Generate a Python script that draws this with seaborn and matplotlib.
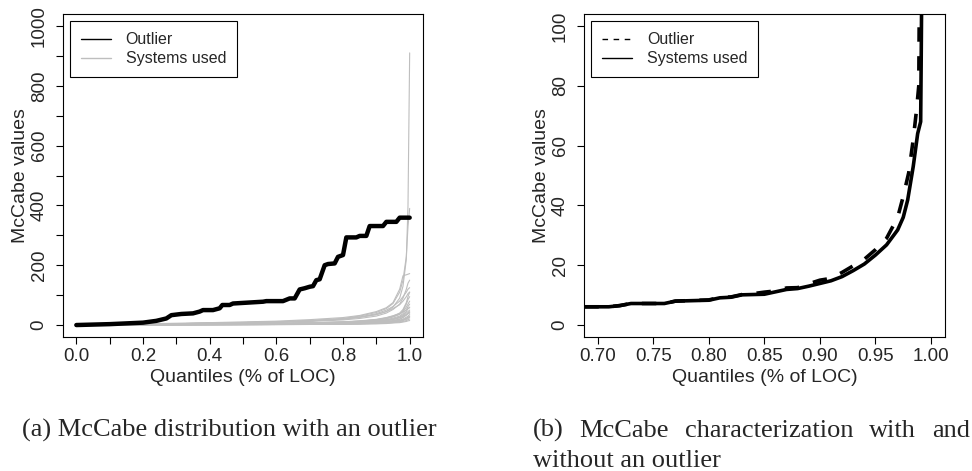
import matplotlib
matplotlib.use("Agg")
import matplotlib.pyplot as plt
from matplotlib.lines import Line2D
from matplotlib.ticker import MultipleLocator, FormatStrFormatter
import pandas as pd
import seaborn as sns

# --- panel (a): quantile grid on which every system used is sampled
quantiles = [0.0, 0.2, 0.4, 0.6, 0.7, 0.8, 0.85, 0.9, 0.93, 0.95, 0.97, 0.98, 0.99, 0.995, 1.0]

# McCabe value of each system used at those quantiles (one row per system)
systems_mccabe = [
    [1, 3, 6, 10, 14, 20, 26, 35, 45, 60, 90, 130, 220, 400, 910],
    [1, 3, 6, 11, 15, 22, 30, 42, 55, 72, 110, 150, 230, 330, 390],
    [1, 4, 8, 13, 18, 25, 32, 45, 58, 75, 120, 165, 168, 170, 172],
    [1, 3, 6, 9, 12, 17, 22, 30, 40, 52, 70, 90, 120, 140, 150],
    [0, 2, 3, 5, 7, 10, 13, 18, 24, 30, 40, 52, 75, 95, 110],
    [1, 3, 6, 10, 14, 20, 27, 38, 50, 62, 80, 95, 110, 120, 125],
    [0, 1, 2, 4, 6, 9, 12, 16, 21, 27, 36, 48, 70, 85, 95],
    [1, 3, 6, 10, 14, 20, 26, 35, 45, 55, 68, 80, 95, 105, 110],
    [0, 1, 3, 5, 7, 10, 13, 17, 22, 28, 36, 45, 60, 70, 80],
    [1, 2, 3, 5, 7, 9, 11, 14, 18, 23, 30, 38, 52, 62, 70],
    [0, 1, 2, 3, 5, 7, 9, 12, 16, 20, 27, 34, 45, 55, 60],
    [1, 2, 4, 6, 8, 11, 14, 19, 25, 31, 38, 44, 50, 55, 58],
    [0, 1, 2, 3, 4, 6, 8, 10, 14, 18, 24, 30, 40, 45, 50],
    [0, 1, 1, 2, 3, 5, 6, 8, 11, 14, 19, 25, 33, 40, 45],
    [0, 1, 2, 3, 4, 5, 7, 9, 12, 15, 20, 26, 34, 38, 42],
    [1, 2, 3, 4, 6, 8, 10, 13, 17, 20, 25, 30, 35, 38, 40],
    [0, 1, 1, 2, 3, 4, 5, 7, 9, 12, 16, 20, 26, 30, 35],
    [0, 0, 1, 2, 2, 3, 4, 6, 8, 10, 13, 17, 22, 26, 30],
    [1, 1, 2, 3, 4, 5, 6, 8, 10, 12, 15, 18, 22, 25, 28],
    [0, 1, 1, 2, 3, 4, 5, 6, 8, 10, 12, 15, 19, 22, 25],
    [0, 0, 1, 1, 2, 3, 3, 5, 6, 8, 10, 12, 15, 18, 20],
    [0, 1, 1, 2, 2, 3, 4, 4, 5, 7, 8, 10, 12, 14, 15],
]

# the outlier system (step-like curve)
outlier_q = [0.0, 0.10, 0.20, 0.24, 0.27, 0.285, 0.315, 0.35, 0.37, 0.38, 0.41, 0.43, 0.438,
             0.46, 0.47, 0.56, 0.57, 0.62, 0.64, 0.655, 0.67, 0.685, 0.70, 0.71, 0.72, 0.73,
             0.745, 0.755, 0.775, 0.785, 0.80, 0.81, 0.84, 0.85, 0.87, 0.88, 0.92, 0.93,
             0.96, 0.97, 1.0]
outlier_mccabe = [0, 3, 8, 14, 22, 33, 37, 39, 45, 50, 50, 56, 67,
                  67, 72, 78, 80, 80, 89, 89, 119, 123, 128, 130, 150, 153,
                  200, 204, 206, 228, 234, 293, 293, 298, 298, 331, 331, 345,
                  345, 359, 359]

# --- panel (b): zoom on the upper quantiles
systems_q = [0.688, 0.71, 0.72, 0.73, 0.76, 0.77, 0.80, 0.81, 0.82, 0.83, 0.85, 0.86, 0.87,
             0.88, 0.89, 0.90, 0.91, 0.92, 0.93, 0.94, 0.95, 0.96, 0.97, 0.975, 0.979,
             0.984, 0.988, 0.9907, 0.9912, 0.9916]
systems_curve = [6.1, 6.1, 6.5, 7.2, 7.2, 8.0, 8.3, 9.1, 9.3, 10.1, 10.3, 11.1, 11.9,
                 12.2, 13.0, 13.9, 14.8, 16.2, 18.2, 20.4, 23.4, 26.8, 31.8, 36.0, 41.8,
                 53.0, 64.0, 68.0, 90.0, 110.0]

with_outlier_q = [0.688, 0.71, 0.72, 0.73, 0.76, 0.77, 0.80, 0.81, 0.82, 0.83, 0.84, 0.85,
                  0.86, 0.87, 0.88, 0.89, 0.90, 0.91, 0.92, 0.93, 0.94, 0.95, 0.96, 0.97,
                  0.975, 0.98, 0.984, 0.987, 0.989, 0.9895]
with_outlier_curve = [6.1, 6.1, 6.5, 7.2, 7.2, 8.0, 8.4, 9.2, 9.4, 10.2, 10.5, 11.0,
                      11.4, 12.4, 12.5, 13.8, 15.0, 15.6, 17.6, 19.8, 22.0, 25.2, 29.0, 36.0,
                      43.0, 51.0, 62.0, 72.0, 80.0, 110.0]

GRAY = "#BEBEBE"
W, H = 972, 471


def style_axes(ax):
    for s in ax.spines.values():
        s.set_visible(True)
        s.set_color("black")
        s.set_linewidth(0.8)
    ax.tick_params(which="both", direction="out", length=5, width=0.8, color="black",
                   labelsize=13.5)
    ax.tick_params(axis="x", which="both", pad=3)
    ax.tick_params(axis="y", which="both", pad=6, labelrotation=90)
    for lab in ax.get_yticklabels():
        lab.set_va("center")
    ax.set_xlabel("Quantiles (% of LOC)", fontsize=14, labelpad=3)
    ax.set_ylabel("McCabe values", fontsize=14, labelpad=1)
    ax.grid(False)


sns.set_style("ticks")
plt.rcParams["font.family"] = ["Liberation Sans", "DejaVu Sans"]
plt.rcParams["lines.solid_capstyle"] = "round"
plt.rcParams["lines.solid_joinstyle"] = "round"

fig = plt.figure(figsize=(W / 100, H / 100), dpi=100)
ax1 = fig.add_axes([63 / W, (H - 337) / H, 360 / W, 323 / H])
ax2 = fig.add_axes([584 / W, (H - 337) / H, 361 / W, 323 / H])

# panel (a)
rows = []
for i, vals in enumerate(systems_mccabe):
    for q, v in zip(quantiles, vals):
        rows.append({"system": i, "quantile": q, "mccabe": v})
sys_df = pd.DataFrame(rows)
sns.lineplot(data=sys_df, x="quantile", y="mccabe", units="system", estimator=None,
             color=GRAY, lw=0.8, legend=False, ax=ax1)
sns.lineplot(x=outlier_q, y=outlier_mccabe, color="black", lw=3.2, estimator=None,
             sort=False, ax=ax1)
ax1.set_xlim(-0.04, 1.04)
ax1.set_ylim(-40, 1040)
ax1.xaxis.set_major_locator(MultipleLocator(0.2))
ax1.xaxis.set_minor_locator(MultipleLocator(0.1))
ax1.xaxis.set_major_formatter(FormatStrFormatter("%.1f"))
ax1.yaxis.set_major_locator(MultipleLocator(200))
ax1.yaxis.set_minor_locator(MultipleLocator(100))
style_axes(ax1)
ax1.legend(handles=[Line2D([], [], color="black", lw=1.0), Line2D([], [], color=GRAY, lw=1.0)],
           labels=["Outlier", "Systems used"], loc="upper left",
           bbox_to_anchor=(0.019, 0.978), borderaxespad=0, fontsize=11.5,
           handlelength=1.9, handletextpad=0.9, borderpad=0.7, labelspacing=0.25,
           frameon=True, fancybox=False, edgecolor="black", framealpha=1)
ax1.get_legend().get_frame().set_linewidth(0.8)

# panel (b)
zoom_df = pd.concat([
    pd.DataFrame({"quantile": with_outlier_q, "mccabe": with_outlier_curve, "series": "Outlier"}),
    pd.DataFrame({"quantile": systems_q, "mccabe": systems_curve, "series": "Systems used"}),
])
sns.lineplot(data=zoom_df, x="quantile", y="mccabe", style="series",
             dashes={"Outlier": (4, 4), "Systems used": ""}, color="black", lw=2.6,
             estimator=None, sort=False, legend=False, ax=ax2)
ax2.set_xlim(0.6877, 1.0126)
ax2.set_ylim(-4, 104)
ax2.xaxis.set_major_locator(MultipleLocator(0.05))
ax2.xaxis.set_major_formatter(FormatStrFormatter("%.2f"))
ax2.yaxis.set_major_locator(MultipleLocator(20))
style_axes(ax2)
ax2.legend(handles=[Line2D([], [], color="black", lw=1.0, ls=(0, (4, 4))),
                    Line2D([], [], color="black", lw=1.0)],
           labels=["Outlier", "Systems used"], loc="upper left",
           bbox_to_anchor=(0.019, 0.978), borderaxespad=0, fontsize=11.5,
           handlelength=1.9, handletextpad=0.9, borderpad=0.7, labelspacing=0.25,
           frameon=True, fancybox=False, edgecolor="black", framealpha=1)
ax2.get_legend().get_frame().set_linewidth(0.8)

# captions
cap = dict(family=["Liberation Serif", "DejaVu Serif"], fontsize=19, va="baseline")
fig.text(22 / W, (H - 437) / H, "(a) McCabe distribution with an outlier", ha="left", **cap)
words = ["(b)", "McCabe", "characterization", "with", "and"]
word_texts = [fig.text(0, (H - 437) / H, w, ha="left", **cap) for w in words]
fig.text(533 / W, (H - 467) / H, "without an outlier", ha="left", **cap)

fig.canvas.draw()
renderer = fig.canvas.get_renderer()
widths = [t.get_window_extent(renderer).width for t in word_texts]
gap = (970 - 533 - sum(widths)) / (len(words) - 1)
x = 533
for t, w in zip(word_texts, widths):
    t.set_x(x / W)
    x += w + gap

fig.savefig("out.png", dpi=100)
